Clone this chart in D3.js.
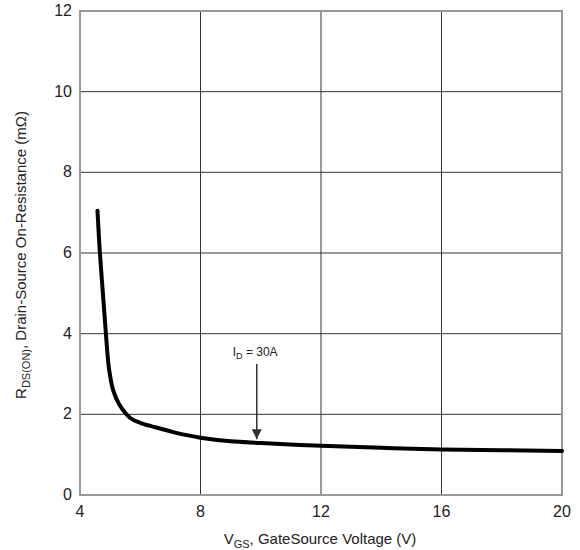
<!DOCTYPE html>
<html>
<head>
<meta charset="utf-8">
<script src="https://cdn.jsdelivr.net/npm/d3@7"></script>
<style>
  body { margin: 0; background: #fff; }
  text { font-family: "Liberation Sans", Arial, sans-serif; fill: #222; }
</style>
</head>
<body>
<div id="chart"></div>
<script>
var w = 580, h = 550;
var margin = {left: 80, right: 18, top: 11, bottom: 55};

// curve: VGS (V) vs RDS(on) (mOhm)
var vgs  = [4.58, 4.66, 4.76, 4.86, 4.96, 5.1, 5.3, 5.67, 6.0, 6.5, 7.0, 7.5, 8.0, 9.0, 10.0, 12.0, 14.0, 16.0, 18.0, 20.0];
var rdson = [7.05, 6.0, 5.0, 4.0, 3.15, 2.6, 2.25, 1.91, 1.79, 1.68, 1.58, 1.49, 1.42, 1.33, 1.29, 1.22, 1.17, 1.13, 1.11, 1.09];
var xTicks = [4, 8, 12, 16, 20];
var yTicks = [0, 2, 4, 6, 8, 10, 12];
var markVgs = 10;

var svg = d3.select("#chart").append("svg").attr("width", w).attr("height", h);

var x = d3.scaleLinear().domain([4, 20]).range([margin.left, w - margin.right]);
var y = d3.scaleLinear().domain([0, 12]).range([h - margin.bottom, margin.top]);

/*
 * grid
 */
svg.selectAll(".vgrid").data(xTicks.slice(1, -1)).enter().append("line")
   .attr("x1", function(d){ return x(d); }).attr("x2", function(d){ return x(d); })
   .attr("y1", y(0)).attr("y2", y(12))
   .attr("stroke", "#333").attr("stroke-width", 1);
svg.selectAll(".hgrid").data(yTicks.slice(1, -1)).enter().append("line")
   .attr("x1", x(4)).attr("x2", x(20))
   .attr("y1", function(d){ return y(d); }).attr("y2", function(d){ return y(d); })
   .attr("stroke", "#333").attr("stroke-width", 1);

svg.append("rect").attr("x", x(4)).attr("y", y(12))
   .attr("width", x(20) - x(4)).attr("height", y(0) - y(12))
   .attr("fill", "none").attr("stroke", "#999").attr("stroke-width", 2);

/*
 * tick labels
 */
svg.selectAll(".xt").data(xTicks).enter().append("text")
   .attr("x", function(d){ return x(d); }).attr("y", y(0) + 22)
   .attr("text-anchor", "middle").attr("font-size", 16)
   .text(function(d){ return d; });
svg.selectAll(".yt").data(yTicks).enter().append("text")
   .attr("x", x(4) - 8).attr("y", function(d){ return y(d) + 5; })
   .attr("text-anchor", "end").attr("font-size", 16)
   .text(function(d){ return d; });

/*
 * axis titles
 */
var xt = svg.append("text").attr("x", 320).attr("y", 544)
   .attr("text-anchor", "middle").attr("font-size", 15);
xt.append("tspan").text("V");
xt.append("tspan").attr("font-size", 11).attr("dy", 4).text("GS");
xt.append("tspan").attr("dy", -4).text(", GateSource Voltage (V)");

var yt = svg.append("text").attr("transform", "translate(26," + 255 + ") rotate(-90)")
   .attr("text-anchor", "middle").attr("font-size", 15);
yt.append("tspan").text("R");
yt.append("tspan").attr("font-size", 11).attr("dy", 4).text("DS(ON)");
yt.append("tspan").attr("dy", -4).text(", Drain-Source On-Resistance (m\u03A9)");

/*
 * curve
 */
var line = d3.line().curve(d3.curveCatmullRom.alpha(0.5))
   .x(function(d, i){ return x(vgs[i]); })
   .y(function(d, i){ return y(rdson[i]); });
svg.append("path").datum(vgs).attr("d", line)
   .attr("fill", "none").attr("stroke", "#000").attr("stroke-width", 4)
   .attr("stroke-linecap", "round");

/*
 * ID = 30A annotation
 */
var ax = x(markVgs) - 4;
var tipY = y(1.31) - 3;
svg.append("defs").append("marker").attr("id", "arr")
   .attr("viewBox", "0 0 10 10").attr("refX", 10).attr("refY", 5)
   .attr("markerWidth", 10).attr("markerHeight", 10).attr("markerUnits", "userSpaceOnUse")
   .attr("orient", "auto")
   .append("path").attr("d", "M0,0L10,5L0,10Z").attr("fill", "#333");
svg.append("line").attr("x1", ax).attr("x2", ax).attr("y1", 364).attr("y2", tipY)
   .attr("stroke", "#333").attr("stroke-width", 1.5).attr("marker-end", "url(#arr)");
var lab = svg.append("text").attr("x", ax - 24).attr("y", 356).attr("font-size", 12);
lab.append("tspan").text("I");
lab.append("tspan").attr("font-size", 9).attr("dy", 3).text("D");
lab.append("tspan").attr("dy", -3).text(" = 30A");
</script>
</body>
</html>
